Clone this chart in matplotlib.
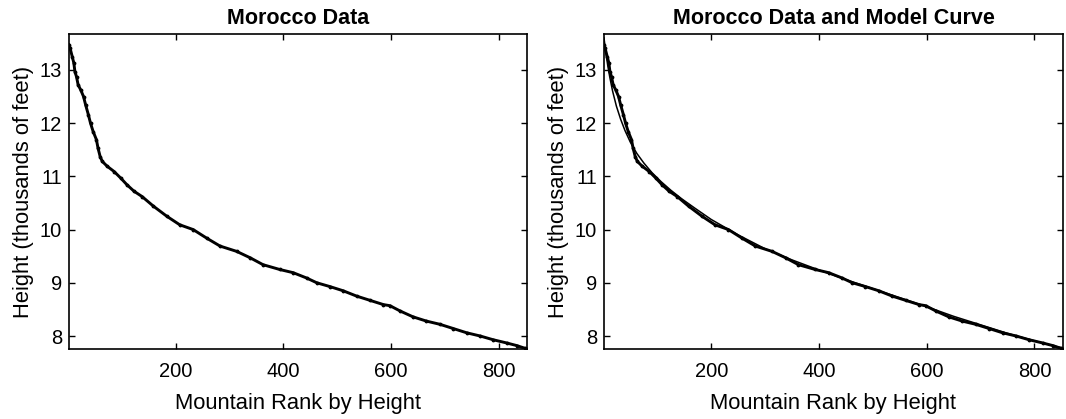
import matplotlib
import matplotlib.pyplot as plt

matplotlib.use('agg')

plt.rcParams['font.family'] = ['Liberation Sans', 'DejaVu Sans']

# mountain rank and height (thousands of feet)
data_rank = [1, 3, 7, 10, 12, 15, 18, 23, 28, 32, 37, 41, 46, 52, 55, 59, 63, 72,
             85, 97, 109, 122, 137, 158, 183, 207, 232, 257, 282, 313, 338, 362,
             393, 418, 443, 462, 486, 511, 536, 561, 586, 598, 617, 641, 666, 691,
             716, 741, 766, 790, 815, 834, 849, 853]
data_height = [13.47, 13.41, 13.25, 13.13, 12.97, 12.87, 12.72, 12.62, 12.50, 12.34,
               12.16, 12.00, 11.84, 11.69, 11.53, 11.37, 11.28, 11.19, 11.09, 10.97,
               10.84, 10.72, 10.62, 10.44, 10.25, 10.09, 10.00, 9.84, 9.69, 9.59,
               9.47, 9.34, 9.25, 9.19, 9.09, 9.00, 8.93, 8.85, 8.75, 8.67, 8.59,
               8.57, 8.47, 8.36, 8.28, 8.22, 8.14, 8.06, 8.00, 7.93, 7.87, 7.82,
               7.77, 7.76]

# model curve
model_rank = [1, 4, 8, 12, 17, 24, 32, 40, 50, 62, 75, 90, 107, 125, 145, 170, 200,
              250, 300, 350, 400, 450, 500, 550, 600, 650, 700, 750, 800, 853]
model_height = [13.60, 13.35, 13.08, 12.85, 12.60, 12.32, 12.07, 11.86, 11.64, 11.43,
                11.25, 11.07, 10.90, 10.74, 10.58, 10.40, 10.19, 9.90, 9.64, 9.43,
                9.24, 9.06, 8.89, 8.72, 8.55, 8.37, 8.21, 8.05, 7.91, 7.77]

titles = ['Morocco Data', 'Morocco Data and Model Curve']
xticks = [200, 400, 600, 800]
yticks = [8, 9, 10, 11, 12, 13]

fig = plt.figure(figsize=(10.66, 4.19), dpi=100)
ax1 = fig.add_axes([69 / 1066, 70 / 419, 458 / 1066, 315 / 419])
ax2 = fig.add_axes([604 / 1066, 70 / 419, 459 / 1066, 315 / 419])

for i, ax in enumerate([ax1, ax2]):
    ax.plot(data_rank, data_height, color='black', lw=2.1, marker='.', ms=3.5)
    if i == 1:
        ax.plot(model_rank, model_height, color='black', lw=1.1)
    ax.set_xlim(1, 853)
    ax.set_ylim(7.756, 13.675)
    ax.set_xticks(xticks)
    ax.set_yticks(yticks)
    ax.tick_params(direction='in', top=True, right=True, length=4, width=1,
                   labelsize=14.5)
    ax.tick_params(axis='x', pad=9)
    ax.tick_params(axis='y', pad=5)
    for s in ax.spines.values():
        s.set_linewidth(1.2)
    ax.set_title(titles[i], fontsize=15.5, fontweight='bold', pad=7)
    ax.set_xlabel('Mountain Rank by Height', fontsize=15.8, labelpad=9)
    ax.set_ylabel('Height (thousands of feet)', fontsize=15.8, labelpad=4)

fig.savefig('out.png', dpi=100)
